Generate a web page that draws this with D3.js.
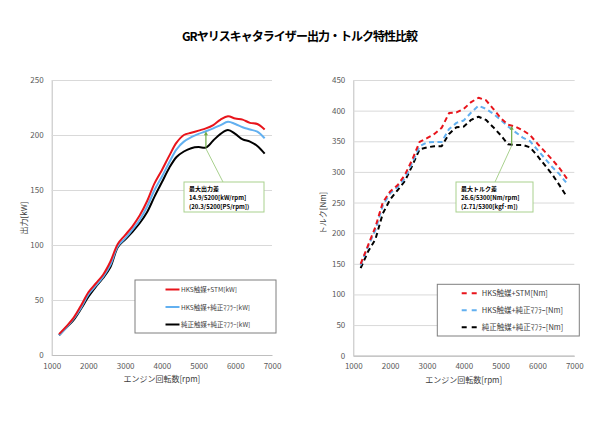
<!DOCTYPE html>
<html>
  <head>
    <meta charset="utf-8">
    <title>GR Yaris</title>
    <script src="https://d3js.org/d3.v7.min.js"></script>
    <style>
      body { margin: 0; background: white; }
      text { font-family: "Noto Sans CJK JP", "Noto Sans", sans-serif; }
      .tick text { font-size: 8px; fill: #595959; }
      .tick line { stroke: #d9d9d9; }
      .domain { stroke: #bfbfbf; }
    </style>
  </head>
  <body>
    <script>
      let width = 600, height = 424;

      // shared rpm points
      let rpm = [1200, 1400, 1600, 1800, 2000, 2200, 2400, 2600, 2800, 3000,
                 3200, 3400, 3600, 3800, 4000, 4200, 4400, 4600, 4800, 5000,
                 5200, 5400, 5600, 5800, 6000, 6200, 6400, 6600, 6800];

      // power [kW]
      let hksStmKw   = [19, 26, 34, 45, 57, 65, 73, 85, 101, 109, 117, 127, 140, 156, 168, 181, 193, 200, 202, 204,
                        206, 209, 214, 217, 215, 214, 211, 210, 205];
      let hksOemKw   = [18, 25, 33, 43, 55, 63, 71, 82, 99, 106, 114, 123, 135, 150, 162, 175, 187, 194, 198, 201,
                        203.4, 206, 209, 212, 210, 207, 205, 203, 197];
      let oemOemKw   = [18, 25, 32, 42, 53, 62, 70, 80, 98, 105, 112, 120, 130, 144, 157, 170, 180, 185, 188, 189,
                        188.5, 195, 201, 204.5, 201, 196, 194, 190, 183];

      // torque [Nm]
      let hksStmNm   = [150, 180, 210, 250, 268, 278, 295, 320, 349, 355, 362, 372, 396, 397, 403, 414, 421, 417, 403, 388,
                        377, 374, 368, 360, 346, 333, 320, 306, 289];
      let hksOemNm   = [148, 178, 205, 245, 265, 275, 290, 315, 342, 348, 349, 349, 370, 380, 384, 397, 408, 403, 395, 385,
                        374, 365, 356, 350, 336, 322, 308, 296, 281];
      let oemOemNm   = [143, 170, 190, 232, 255, 270, 285, 310, 337, 340, 342, 342, 362, 373, 374, 385, 390, 385, 373, 360,
                        345, 344, 344, 340, 326, 311, 296, 278, 259];

      let xTicks = [1000, 2000, 3000, 4000, 5000, 6000, 7000];
      let kwTicks = [0, 50, 100, 150, 200, 250];
      let nmTicks = [0, 50, 100, 150, 200, 250, 300, 350, 400, 450];

      let kwNames = ["HKS触媒+STM[kW]", "HKS触媒+純正ﾏﾌﾗｰ[kW]", "純正触媒+純正ﾏﾌﾗｰ[kW]"];
      let nmNames = ["HKS触媒+STM[Nm]", "HKS触媒+純正ﾏﾌﾗｰ[Nm]", "純正触媒+純正ﾏﾌﾗｰ[Nm]"];
      let colors = ["#e8141b", "#62b0f0", "#000000"];

      let svg = d3.select("body").append("svg")
                  .attr("width", width)
                  .attr("height", height)
                  .style("background", "white");

      svg.append("text")
         .attr("x", 300).attr("y", 41)
         .attr("text-anchor", "middle")
         .style("font-size", "12px")
         .style("font-weight", "bold")
         .attr("textLength", 236)
         .text("GRヤリスキャタライザー出力・トルク特性比較");

      function drawChart(opt) {
        let x = d3.scaleLinear().domain([1000, 7000]).range([opt.left, opt.right]);
        let y = d3.scaleLinear().domain([0, opt.max]).range([opt.bottom, opt.top]);

        // gridlines + y axis
        svg.append("g")
           .attr("transform", `translate(${opt.left},0)`)
           .call(d3.axisLeft(y).tickValues(opt.yTicks).tickSize(-(opt.right - opt.left)).tickPadding(8))
           .call(g => g.select(".domain").attr("stroke", "#d9d9d9"))
           .call(g => g.selectAll(".tick line").attr("stroke", "#d9d9d9"));

        svg.append("g")
           .attr("transform", `translate(0,${opt.bottom})`)
           .call(d3.axisBottom(x).tickValues(xTicks).tickSize(0).tickPadding(8).tickFormat(d3.format("d")))
           .call(g => g.select(".domain").attr("stroke", "#bfbfbf"));

        svg.append("text")
           .attr("x", (opt.left + opt.right) / 2).attr("y", opt.bottom + 27)
           .attr("text-anchor", "middle")
           .style("font-size", "8px").style("fill", "#404040")
           .text("エンジン回転数[rpm]");

        svg.append("text")
           .attr("transform", `translate(${opt.yLabelX},${opt.yLabelY}) rotate(-90)`)
           .attr("text-anchor", "middle")
           .style("font-size", "8px").style("fill", "#404040")
           .text(opt.yLabel);

        let line = d3.line()
                     .x((d, i) => x(rpm[i]))
                     .y(d => y(d))
                     .curve(opt.dashed ? d3.curveLinear : d3.curveCatmullRom);

        opt.series.slice().reverse().forEach((s, j) => {
          let i = opt.series.length - 1 - j;
          svg.append("path")
             .attr("d", line(s))
             .attr("fill", "none")
             .attr("stroke", colors[i])
             .attr("stroke-width", 2)
             .attr("stroke-linejoin", "round")
             .attr("stroke-dasharray", opt.dashed ? "5,3.5" : null);
        });

        // annotation: leader line, arrow, box
        let ax = x(opt.ann.rpm);
        svg.append("line")
           .attr("x1", opt.ann.bx + opt.ann.lead).attr("y1", opt.ann.by)
           .attr("x2", ax).attr("y2", y(opt.ann.lo) + 1)
           .attr("stroke", "#a9d18e").attr("stroke-width", 1);
        svg.append("line")
           .attr("x1", ax).attr("x2", ax)
           .attr("y1", y(opt.ann.lo)).attr("y2", y(opt.ann.hi) + 2)
           .attr("stroke", "#70ad47").attr("stroke-width", 1.2);
        svg.append("path")
           .attr("d", `M${ax - 2},${y(opt.ann.hi) + 4}L${ax},${y(opt.ann.hi)}L${ax + 2},${y(opt.ann.hi) + 4}Z`)
           .attr("fill", "#70ad47");
        svg.append("rect")
           .attr("x", opt.ann.bx).attr("y", opt.ann.by)
           .attr("width", opt.ann.bw).attr("height", 30)
           .attr("fill", "white").attr("stroke", "#a9d18e").attr("stroke-width", 1);
        opt.ann.text.forEach((t, k) => {
          svg.append("text")
             .attr("x", opt.ann.bx + 5).attr("y", opt.ann.by + 9 + k * 8.8)
             .style("font-size", "6px").style("font-weight", "bold")
             .text(t);
        });

        // legend
        let lg = opt.legend;
        svg.append("rect")
           .attr("x", lg.x).attr("y", lg.y).attr("width", lg.w).attr("height", lg.h)
           .attr("fill", "white").attr("stroke", "#7f7f7f").attr("stroke-width", 1);
        opt.names.forEach((n, i) => {
          let ly = lg.y + lg.first + i * lg.step;
          svg.append("line")
             .attr("x1", lg.lx).attr("x2", lg.lx + lg.lw)
             .attr("y1", ly).attr("y2", ly)
             .attr("stroke", colors[i]).attr("stroke-width", 2)
             .attr("stroke-dasharray", opt.dashed ? "5,5" : null);
          svg.append("text")
             .attr("x", lg.lx + lg.lw + lg.gap).attr("y", ly + 2.5)
             .style("font-size", lg.fs).style("fill", "#404040")
             .text(n);
        });
      }

      drawChart({
        left: 51.7, right: 272, top: 80, bottom: 355, max: 250,
        yTicks: kwTicks, yLabel: "出力[kW]", yLabelX: 27, yLabelY: 218,
        series: [hksStmKw, hksOemKw, oemOemKw], names: kwNames, dashed: false,
        ann: { rpm: 5200, lo: 188.5, hi: 203.4, bx: 184, by: 182, bw: 80, lead: 39,
               text: ["最大出力差", "14.9/5200[kW/rpm]", "(20.3/5200[PS/rpm])"] },
        legend: { x: 135, y: 280, w: 141, h: 53, first: 9.5, step: 17.5, lx: 165.5, lw: 14, gap: 1.5, fs: "6.5px" }
      });

      drawChart({
        left: 353.3, right: 574.3, top: 80, bottom: 355.7, max: 450,
        yTicks: nmTicks, yLabel: "トルク[Nm]", yLabelX: 326, yLabelY: 213,
        series: [hksStmNm, hksOemNm, oemOemNm], names: nmNames, dashed: true,
        ann: { rpm: 5300, lo: 344.5, hi: 375.5, bx: 456, by: 182, bw: 77, lead: 39,
               text: ["最大トルク差", "26.6/5300[Nm/rpm]", "(2.71/5300[kgf·m])"] },
        legend: { x: 437.3, y: 284.3, w: 142, h: 51.7, first: 9, step: 17, lx: 461.7, lw: 15, gap: 5, fs: "7.5px" }
      });
    </script>
  </body>
</html>
